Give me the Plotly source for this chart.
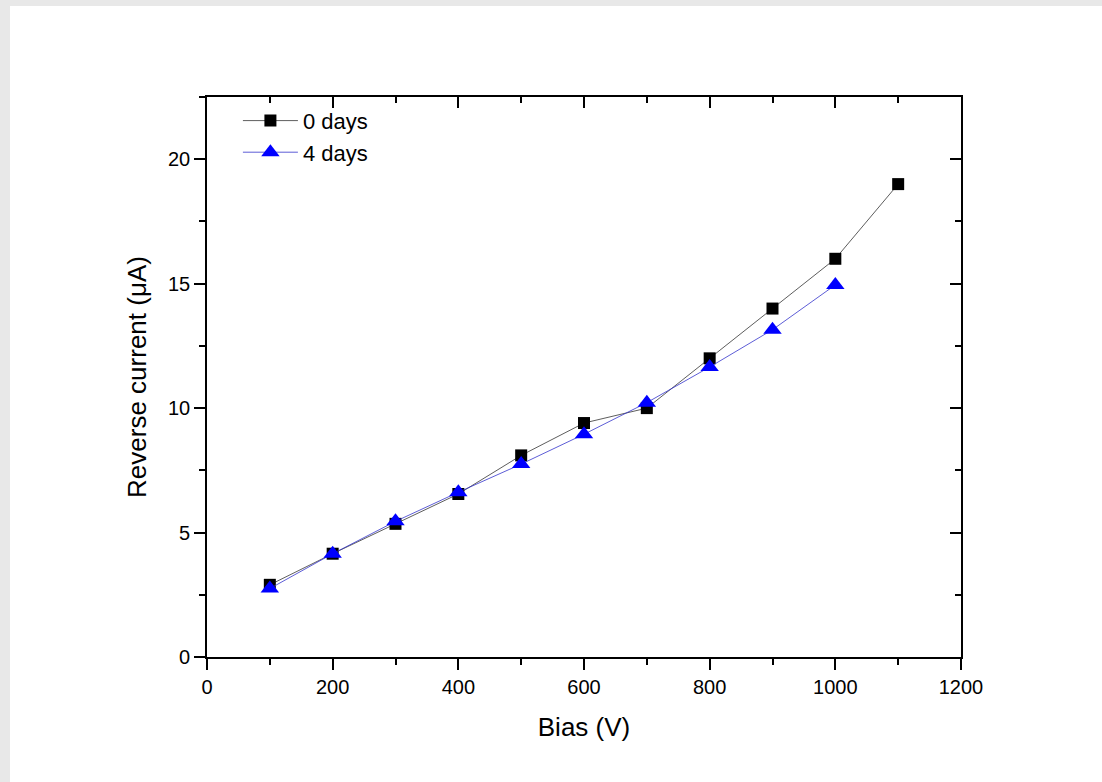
import plotly.graph_objects as go

bias = [100, 200, 300, 400, 500, 600, 700, 800, 900, 1000, 1100]
current_0days = [2.9, 4.15, 5.35, 6.55, 8.1, 9.4, 10.0, 12.0, 14.0, 16.0, 19.0]
bias_4days = [100, 200, 300, 400, 500, 600, 700, 800, 900, 1000]
current_4days = [2.75, 4.15, 5.45, 6.62, 7.75, 8.95, 10.22, 11.65, 13.15, 14.95]

x_ticks = [0, 200, 400, 600, 800, 1000, 1200]
y_ticks = [0, 5, 10, 15, 20]

FONT = "Liberation Sans, Arial, sans-serif"

fig = go.Figure()
fig.add_trace(go.Scatter(
    x=bias, y=current_0days, name="0 days", mode="lines+markers",
    line=dict(color="#333333", width=0.8),
    marker=dict(symbol="square", size=12, color="black"),
))
fig.add_trace(go.Scatter(
    x=bias_4days, y=current_4days, name="4 days", mode="lines+markers",
    line=dict(color="#3333cc", width=0.8),
    marker=dict(symbol="triangle-up", size=16, color="#0000ff"),
))
# empty trace to activate the mirrored (top/right) axes
fig.add_trace(go.Scatter(x=[], y=[], xaxis="x2", yaxis="y2", showlegend=False, hoverinfo="skip"))

W, H = 1102, 782
L, R, T, B = 207, 141, 97, 125
pw, ph = W - L - R, H - T - B

axis_common = dict(showgrid=False, zeroline=False, showline=True, linecolor="black",
                   linewidth=1.6, tickcolor="black", tickwidth=1.6)
minor_out = dict(ticks="outside", ticklen=6, tickwidth=1.6, tickcolor="black")
minor_in = dict(ticks="inside", ticklen=6, tickwidth=1.6, tickcolor="black")

fig.update_layout(
    width=W, height=H,
    margin=dict(l=L, r=R, t=T, b=B, pad=0),
    paper_bgcolor="white", plot_bgcolor="white",
    font=dict(family=FONT, color="black"),
    showlegend=True,
    legend=dict(x=0.041, y=0.995, xanchor="left", yanchor="top",
                bgcolor="rgba(0,0,0,0)", font=dict(size=22, family=FONT),
                tracegroupgap=0, itemwidth=55),
    xaxis=dict(range=[0, 1200], tickvals=x_ticks, ticks="outside", ticklen=11,
               tickfont=dict(size=20, family=FONT),
               minor=dict(dtick=100, tick0=0, **minor_out),
               title=dict(text="Bias (V)", font=dict(size=26, family=FONT), standoff=21),
               **axis_common),
    yaxis=dict(range=[0, 22.5], tickvals=y_ticks, ticks="outside", ticklen=11,
               tickfont=dict(size=20, family=FONT),
               minor=dict(dtick=2.5, tick0=0, **minor_out),
               title=dict(text="Reverse current (μA)", font=dict(size=26, family=FONT), standoff=14),
               **axis_common),
    xaxis2=dict(range=[0, 1200], overlaying="x", side="top", tickvals=x_ticks, ticks="inside",
                ticklen=11, showticklabels=False,
                minor=dict(dtick=100, tick0=0, **minor_in),
                **axis_common),
    yaxis2=dict(range=[0, 22.5], overlaying="y", side="right", tickvals=y_ticks, ticks="inside",
                ticklen=11, showticklabels=False,
                minor=dict(dtick=2.5, tick0=0, **minor_in),
                **axis_common),
    shapes=[
        dict(type="rect", xref="paper", yref="paper", layer="below",
             x0=-L / pw, x1=(10 - L) / pw, y0=-B / ph, y1=(ph + T) / ph,
             fillcolor="#e8e8e8", line=dict(width=0)),
        dict(type="rect", xref="paper", yref="paper", layer="below",
             x0=-L / pw, x1=(W - L) / pw, y0=(ph + T - 6) / ph, y1=(ph + T) / ph,
             fillcolor="#e8e8e8", line=dict(width=0)),
    ],
)

fig.write_html("out.html", config={"displayModeBar": False},
               post_script="document.body.style.margin='0';document.body.style.overflow='hidden';")
